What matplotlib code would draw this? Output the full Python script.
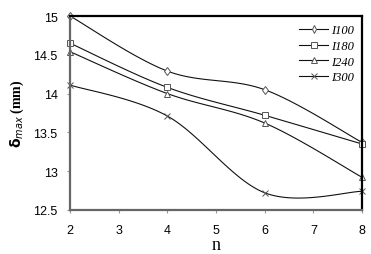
import numpy as np
import matplotlib
matplotlib.use('Agg')
from matplotlib import pyplot as plt

n = [2, 4, 6, 8]
labels = ['I100', 'I180', 'I240', 'I300']
I100 = [15.0, 14.29, 14.05, 13.37]
I180 = [14.65, 14.08, 13.72, 13.35]
I240 = [14.54, 14.0, 13.62, 12.92]
I300 = [14.11, 13.71, 12.72, 12.74]
markers = ['d', 's', '^', 'x']


def smooth(x, y, steps=30, tension=0.5):
    """Cardinal spline through the points, like Excel's smoothed line"""
    x = np.asarray(x, float)
    y = np.asarray(y, float)
    px = np.concatenate([[x[0]], x, [x[-1]]])
    py = np.concatenate([[y[0]], y, [y[-1]]])
    xs, ys = [], []
    for i in range(1, len(px) - 2):
        t = np.linspace(0, 1, steps)
        h1 = 2*t**3 - 3*t**2 + 1
        h2 = -2*t**3 + 3*t**2
        h3 = t**3 - 2*t**2 + t
        h4 = t**3 - t**2
        mx1 = tension * (px[i+1] - px[i-1])
        mx2 = tension * (px[i+2] - px[i])
        my1 = tension * (py[i+1] - py[i-1])
        my2 = tension * (py[i+2] - py[i])
        xs.append(h1*px[i] + h2*px[i+1] + h3*mx1 + h4*mx2)
        ys.append(h1*py[i] + h2*py[i+1] + h3*my1 + h4*my2)
    return np.concatenate(xs), np.concatenate(ys)


fig = plt.figure(figsize=(3.71, 2.55), dpi=100)
ax = fig.add_axes([0.189, 0.173, 0.787, 0.76])

for series, lab, m in zip([I100, I180, I240, I300], labels, markers):
    sx, sy = smooth(n, series)
    ax.plot(sx, sy, color='#111111', lw=0.8)
    ax.plot(n, series, linestyle='none', marker=m, markersize=4.5,
            mfc='white', mec='#555555', mew=0.7, clip_on=False)
    ax.plot([], [], color='#111111', lw=0.8, marker=m, markersize=4,
            mfc='white', mec='#555555', mew=0.7, label=lab)

ax.set_xlim(2, 8)
ax.set_ylim(12.5, 15)
ax.set_xticks(range(2, 9))
ax.set_yticks([12.5, 13, 13.5, 14, 14.5, 15])
ax.set_yticklabels(['12.5', '13', '13.5', '14', '14.5', '15'])

for t in ax.get_xticklabels() + ax.get_yticklabels():
    t.set_family('Liberation Sans')
    t.set_fontsize(9)
ax.tick_params(direction='out', length=2, width=0.8, color='#999999')
ax.tick_params(axis='x', pad=8)
ax.tick_params(axis='y', pad=7)

for s in ['left', 'bottom']:
    ax.spines[s].set_color('#666666')
    ax.spines[s].set_linewidth(1.6)
for s in ['top', 'right']:
    ax.spines[s].set_color('black')
    ax.spines[s].set_linewidth(1.6)

ax.set_xlabel('n', family='Liberation Serif', fontsize=13, labelpad=0)
ax.set_ylabel(r'$\mathbf{\delta}_{\mathit{max}}$ (mm)', family='Liberation Serif',
              fontsize=10, fontweight='bold', labelpad=5)

leg = ax.legend(loc='upper right', frameon=False, handlelength=2.3,
                labelspacing=0.3, borderaxespad=0.25, handletextpad=0.25,
                prop={'family': 'Liberation Serif', 'style': 'italic', 'size': 9})

plt.savefig('out.png', dpi=100)
